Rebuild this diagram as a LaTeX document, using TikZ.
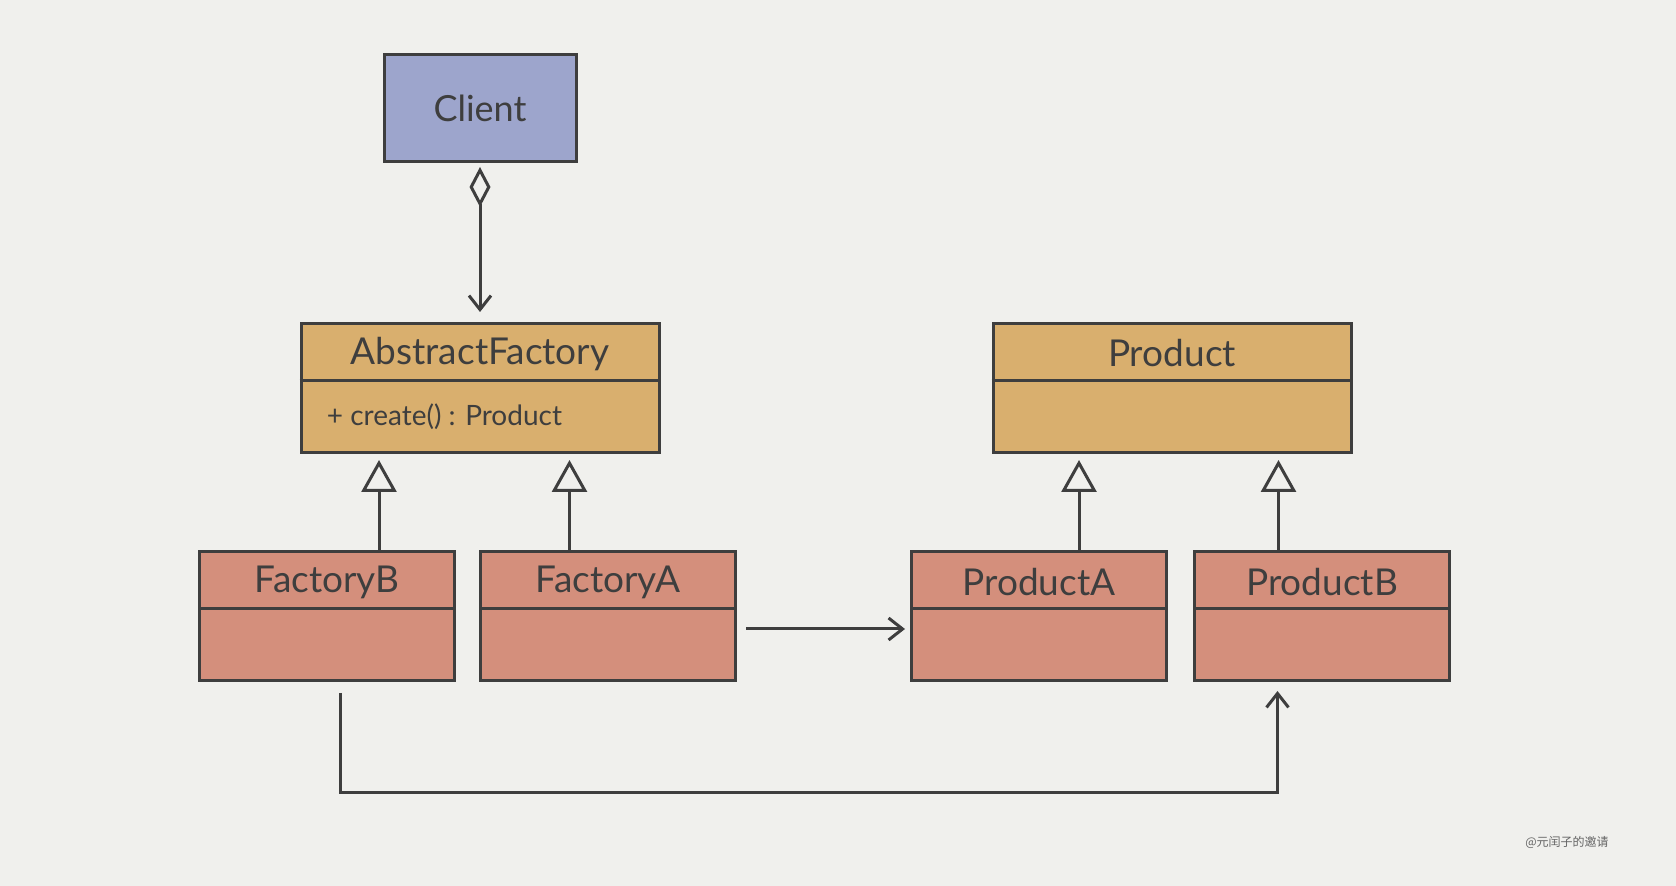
\documentclass[tikz,border=0pt]{standalone}
\usepackage{fontspec}
\setmainfont{Lato}
\newfontfamily\cjkfont{Noto Sans CJK SC}
\usepackage{tikz}
\usetikzlibrary{positioning, arrows.meta}
\definecolor{paper}{RGB}{240,240,237}
\definecolor{ink}{RGB}{62,62,62}
\definecolor{clientblue}{RGB}{157,165,204}
\definecolor{abstractsand}{RGB}{217,175,110}
\definecolor{concretered}{RGB}{212,143,124}

\begin{document}
\begin{tikzpicture}[
    x=0.5pt, y=-0.5pt,
    box/.style={draw=ink, line width=1.5pt, inner sep=0pt, text=ink},
    cls/.style={box, minimum width=179pt, minimum height=64.5pt, fill=abstractsand},
    concrete/.style={box, minimum width=127.5pt, minimum height=64.5pt, fill=concretered},
    title/.style={font=\fontsize{18.5}{21}\selectfont, text=ink, inner sep=0pt},
    member/.style={font=\fontsize{14}{16}\selectfont, text=ink, inner sep=0pt, anchor=west},
    divider/.style={draw=ink, line width=1.5pt},
    inherit/.style={-{Triangle[open, length=16pt, width=17.5pt]}, draw=ink, line width=1.5pt, shorten >=3pt},
    assoc/.style={-{Straight Barb[length=7pt, width=11pt]}, draw=ink, line width=1.5pt}
]

% Paper
\fill[paper] (0,0) rectangle (1676,886);
\useasboundingbox (0,0) rectangle (1676,886);

% Nodes
\node[box, fill=clientblue, minimum width=96pt, minimum height=53.5pt, font=\fontsize{18}{21}\selectfont] (client) at (480,108) {Client};

\node[cls, below=79.5pt of client] (af) {};
\node[title] (af-name) at ([yshift=-16pt]af.north) {AbstractFactory};
\node[member] (af-op) at ([xshift=13.5pt, yshift=-47.5pt]af.north west) {+ create() : Product};

\node[cls, right=165.5pt of af] (prod) {};
\node[title] (prod-name) at ([yshift=-15.5pt]prod.north) {Product};

\node[concrete] (fb) at (327,616) {};
\node[title] (fb-name) at ([yshift=-16pt]fb.north) {FactoryB};

\node[concrete, right=11.5pt of fb] (fa) {};
\node[title] (fa-name) at ([yshift=-16pt]fa.north) {FactoryA};

\node[concrete] (pa) at (1039,616) {};
\node[title] (pa-name) at ([yshift=-16pt]pa.north) {ProductA};

\node[concrete, right=12.5pt of pa] (pb) {};
\node[title] (pb-name) at ([yshift=-16pt]pb.north) {ProductB};

\node[font=\cjkfont\fontsize{6}{7}\selectfont, text=ink!80] (mark) at (1567,842) {@元闰子的邀请};

% Dividers
\draw[divider] ([yshift=-29.5pt]af.north west) -- ([yshift=-29.5pt]af.north east);
\draw[divider] ([yshift=-29.5pt]prod.north west) -- ([yshift=-29.5pt]prod.north east);
\draw[divider] ([yshift=-29.5pt]fb.north west) -- ([yshift=-29.5pt]fb.north east);
\draw[divider] ([yshift=-29.5pt]fa.north west) -- ([yshift=-29.5pt]fa.north east);
\draw[divider] ([yshift=-29.5pt]pa.north west) -- ([yshift=-29.5pt]pa.north east);
\draw[divider] ([yshift=-29.5pt]pb.north west) -- ([yshift=-29.5pt]pb.north east);

% Connections
\draw[assoc, {Diamond[open, length=20pt, width=10.5pt]}-{Straight Barb[length=7pt, width=11pt]}, shorten <=2pt, shorten >=5pt] (client.south) -- (client.south |- af.north);

\draw[inherit] ([xshift=26pt]fb.north) -- ([xshift=26pt]fb.north |- af.south);
\draw[inherit] ([xshift=-19.25pt]fa.north) -- ([xshift=-19.25pt]fa.north |- af.south);
\draw[inherit] ([xshift=20pt]pa.north) -- ([xshift=20pt]pa.north |- prod.south);
\draw[inherit] ([xshift=-21.75pt]pb.north) -- ([xshift=-21.75pt]pb.north |- prod.south);

\draw[assoc, shorten <=4.5pt, shorten >=2.5pt] ([yshift=-6.5pt]fa.east) -- ([yshift=-6.5pt]pa.west);

\draw[assoc, shorten <=5.5pt, shorten >=4.5pt] ([xshift=6.5pt]fb.south) -- ++(0,111) -| ([xshift=-22.25pt]pb.south);

\end{tikzpicture}
\end{document}
